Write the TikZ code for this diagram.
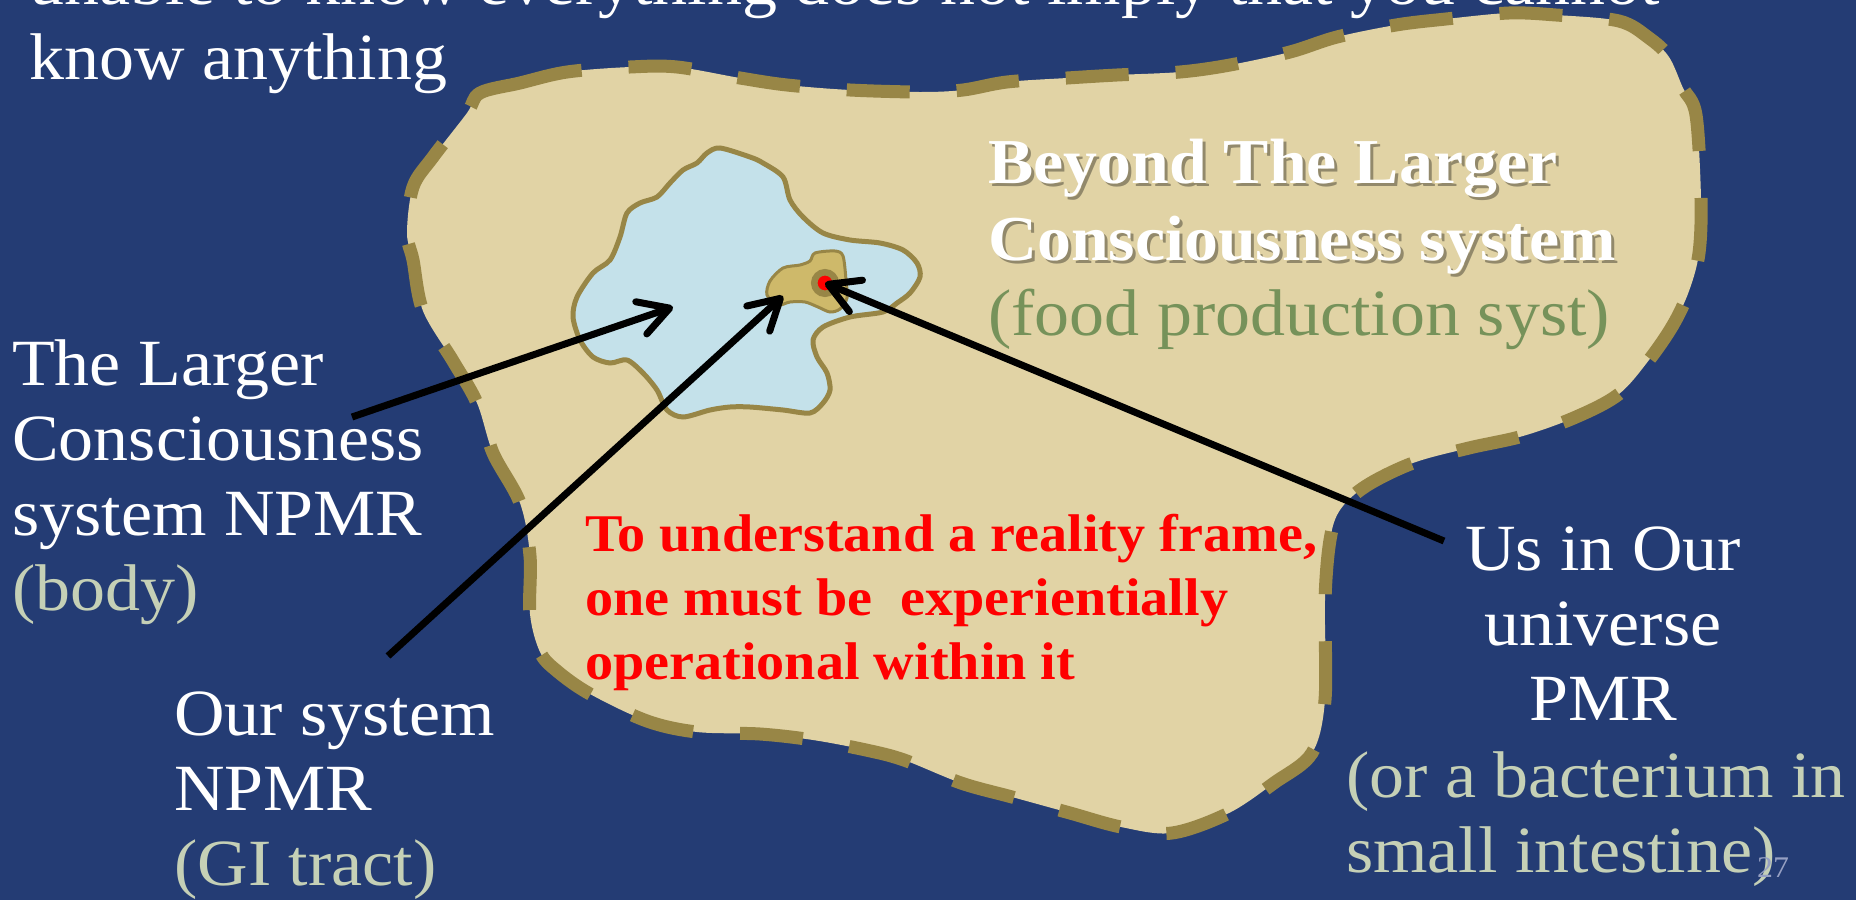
\documentclass[tikz,border=0pt]{standalone}
\usepackage{fontspec}
\setmainfont{Liberation Serif}[FakeStretch=1.06]
\usetikzlibrary{arrows.meta}
\definecolor{slide}{RGB}{36,60,116}
\definecolor{sand}{RGB}{225,211,165}
\definecolor{rim}{RGB}{152,134,70}
\definecolor{pond}{RGB}{196,225,234}
\definecolor{gut}{RGB}{206,185,106}
\definecolor{sage}{RGB}{197,208,182}
\definecolor{moss}{RGB}{118,146,90}
\definecolor{pagegray}{RGB}{150,160,195}
\def\slidefont{\fontsize{66}{75}\selectfont}
\def\titlefont{\fontsize{64}{77}\selectfont\bfseries}
\def\warnfont{\fontsize{53}{64}\selectfont\bfseries}

\begin{document}
\begin{tikzpicture}[x=1pt, y=-1pt,
    slidetext/.style={white, inner sep=0, align=left, font=\slidefont},
    boldtext/.style={inner sep=0, align=left, font=\titlefont},
    warn/.style={red, inner sep=0, align=left, font=\warnfont},
    pointer/.style={line width=7pt, -{Straight Barb[length=30pt,width=34pt,round]}}
  ]
  \useasboundingbox (0,0) rectangle (1856,900);
  \fill[slide] (0,0) rectangle (1856,900);

  % beyond the larger system
  \draw[fill=sand, draw=rim, line width=13pt, dash pattern=on 63pt off 47pt]
    plot[smooth cycle, tension=0.55] coordinates {
      (480,93) (520,83) (567,72) (630,67) (677,67) (740,78) (787,85) (850,90)
      (920,92) (963,90) (1007,82) (1067,78) (1117,75) (1180,72) (1230,65)
      (1290,52) (1337,37) (1396,25) (1446,19) (1509,13) (1556,15) (1619,21)
      (1649,38) (1669,57) (1683,88) (1696,115) (1701,199) (1699,253) (1689,291)
      (1673,325) (1649,360) (1619,394) (1576,417) (1523,436) (1469,448)
      (1413,463) (1366,486) (1340,510) (1330,540) (1325,600) (1325,700)
      (1312,753) (1274,783) (1229,813) (1172,833) (1121,827) (1070,813)
      (1012,797) (961,783) (904,760) (866,750) (813,740) (760,734) (697,732)
      (647,721) (590,694) (557,671) (540,652) (530,614) (530,556) (520,503)
      (493,453) (477,403) (453,361) (423,311) (413,260) (407,233) (413,187)
      (433,157) (467,113)};

  % larger consciousness system
  \draw[fill=pond, draw=rim, line width=5pt]
    plot[smooth cycle, tension=0.5] coordinates {
      (720,148) (750,157) (763,163) (783,177) (790,200) (803,217) (823,233)
      (850,240) (880,243) (903,250) (917,263) (920,277) (910,293) (897,303)
      (883,312) (850,317) (823,327) (813,340) (817,357) (827,373) (830,390)
      (823,403) (810,413) (783,410) (750,407) (730,407) (710,410) (683,417)
      (667,410) (657,390) (643,373) (627,360) (610,363) (593,357) (580,340)
      (573,317) (577,297) (593,273) (610,260) (620,237) (627,213) (640,203)
      (657,197) (670,183) (683,170) (697,163) (707,153)};

  % our system
  \draw[fill=gut, draw=rim, line width=3pt]
    plot[smooth cycle, tension=0.5] coordinates {
      (767,295) (770,281) (783,268) (800,265) (810,261) (815,253) (835,251)
      (843,256) (846,280) (847,298) (840,309) (830,312) (818,307) (805,302)
      (790,302) (778,305)};
  \node[circle, fill=red, draw=rim, line width=6.5pt, minimum size=21.5pt,
    inner sep=0] (us) at (825,283) {};

  % base anchor = last line
  \node[slidetext, anchor=base west] (headline) at (29,79)
    {unable to know everything does not imply that you cannot\\know anything};
  \node[boldtext, anchor=base west, black, opacity=0.35] (beyondshade) at (991,263)
    {Beyond The Larger\\Consciousness system};
  \node[boldtext, anchor=base west, white] (beyond) at (988,260)
    {Beyond The Larger\\Consciousness system};
  \node[slidetext, anchor=base west, moss] (food) at (988,335) {(food production syst)};
  \node[slidetext, anchor=base west] (lcs) at (12,610)
    {The Larger\\Consciousness\\system NPMR\\\textcolor{sage}{(body)}};
  \node[slidetext, anchor=base west] (ours) at (174,885)
    {Our system\\NPMR\\\textcolor{sage}{(GI tract)}};
  \node[slidetext, anchor=base, align=center] (pmr) at (1603,720)
    {Us in Our\\universe\\PMR};
  \node[slidetext, anchor=base west, sage] (bacterium) at (1346,872)
    {(or a bacterium in\\small intestine)};
  \node[warn, anchor=base west] (frame) at (585,679)
    {To understand a reality frame,\\one must be\ \ experientially\\operational within it};
  \node[pagegray, inner sep=0, anchor=base west, font=\fontsize{30}{30}\selectfont]
    (slideno) at (1757,877) {27};

  \coordinate (lcsfrom) at (352,417);
  \coordinate (pondtip) at (673,307);
  \coordinate (oursfrom) at (388,656);
  \coordinate (guttip) at (783,296);
  \coordinate (usfrom) at (1444,541);
  \draw[pointer] (lcsfrom) -- (pondtip);
  \draw[pointer] (oursfrom) -- (guttip);
  \draw[pointer] (usfrom) -- (us.center);
\end{tikzpicture}
\end{document}
